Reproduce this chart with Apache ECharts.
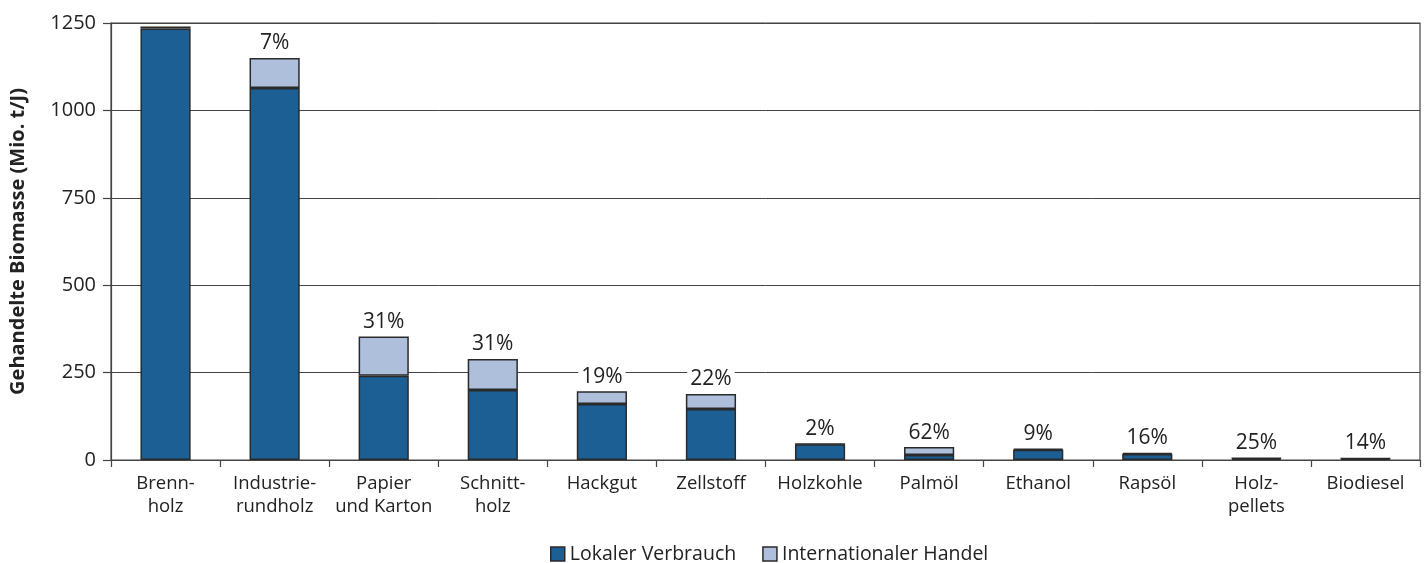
<!DOCTYPE html>
<html>
<head>
<meta charset="utf-8">
<script src="https://cdn.jsdelivr.net/npm/echarts@6/dist/echarts.min.js"></script>
<style>
html,body{margin:0;padding:0;background:#fff;}
#chart{width:1426px;height:563px;}
</style>
</head>
<body>
<div id="chart"></div>
<script>
var categories = ['Brenn-\nholz','Industrie-\nrundholz','Papier\nund Karton','Schnitt-\nholz','Hackgut','Zellstoff','Holzkohle','Palmöl','Ethanol','Rapsöl','Holz-\npellets','Biodiesel'];
var lokalerVerbrauch = [1234, 1064, 241, 200, 160, 146, 45, 14, 29, 17, 4, 4];
var internationalerHandel = [6, 86, 112, 89, 37, 43, 1, 23, 3, 3, 1.5, 0.7];
var anteilLabels = ['', '7%', '31%', '31%', '19%', '22%', '2%', '62%', '9%', '16%', '25%', '14%'];
var yTicks = [0, 250, 500, 750, 1000, 1250];

var FONT = 'Open Sans';
var chart = echarts.init(document.getElementById('chart'));
chart.setOption({
  animation: false,
  textStyle: {fontFamily: FONT},
  grid: {left: 110, right: 6, top: 23, bottom: 103, show: true, borderColor: '#444', borderWidth: 1.2},
  legend: {
    top: 539, left: 545,
    itemWidth: 14, itemHeight: 14, itemGap: 26,
    icon: 'rect',
    itemStyle: {borderColor: '#2a2a2a', borderWidth: 1.5},
    textStyle: {fontSize: 19.5, color: '#222', fontFamily: FONT},
    data: ['Lokaler Verbrauch', 'Internationaler Handel']
  },
  xAxis: {
    type: 'category',
    data: categories,
    boundaryGap: true,
    axisLine: {lineStyle: {color: '#444', width: 1.2}},
    axisTick: {show: true, length: 7, lineStyle: {color: '#444', width: 1.2}},
    axisLabel: {fontSize: 18.5, color: '#222', lineHeight: 23, margin: 12, interval: 0, fontFamily: FONT}
  },
  yAxis: {
    type: 'value',
    min: yTicks[0], max: yTicks[yTicks.length - 1], interval: 250,
    name: 'Gehandelte Biomasse (Mio. t/J)',
    nameLocation: 'middle', nameGap: 83,
    nameTextStyle: {fontSize: 20, fontWeight: 'bold', color: '#222', fontFamily: FONT},
    axisLine: {show: true, lineStyle: {color: '#444', width: 1.2}},
    axisTick: {show: true, length: 8, lineStyle: {color: '#444', width: 1.2}},
    axisLabel: {fontSize: 20, color: '#222', margin: 15, fontFamily: FONT,
      formatter: function (v) { return String(v); }},
    splitLine: {show: true, lineStyle: {color: '#444', width: 1}}
  },
  series: [
    {
      name: 'Lokaler Verbrauch', type: 'bar', stack: 'a',
      barWidth: '46%',
      data: lokalerVerbrauch,
      itemStyle: {color: '#1c5f94', borderColor: '#2a2a2a', borderWidth: 1.5}
    },
    {
      name: 'Internationaler Handel', type: 'bar', stack: 'a',
      barWidth: '46%',
      data: internationalerHandel,
      itemStyle: {color: '#adbfda', borderColor: '#2a2a2a', borderWidth: 1.5},
      label: {
        show: true, position: 'top', distance: 4,
        fontSize: 21, color: '#222', fontFamily: FONT,
        backgroundColor: '#fff', padding: [0, 3],
        formatter: function (p) { return anteilLabels[p.dataIndex]; }
      }
    }
  ]
});
</script>
</body>
</html>
